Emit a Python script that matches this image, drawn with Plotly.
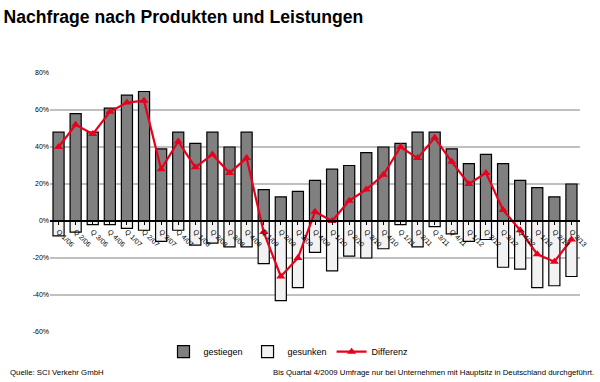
import plotly.graph_objects as go

quarters = ["Q 1/06", "Q 2/06", "Q 3/06", "Q 4/06",
            "Q 1/07", "Q 2/07", "Q 3/07", "Q 4/07",
            "Q 1/08", "Q 2/08", "Q 3/08", "Q 4/08",
            "Q 1/09", "Q 2/09", "Q 3/09", "Q 4/09",
            "Q 1/10", "Q 2/10", "Q 3/10", "Q 4/10",
            "Q 1/11", "Q 2/11", "Q 3/11", "Q 4/11",
            "Q 1/12", "Q 2/12", "Q 3/12", "Q 4/12",
            "Q 1/13", "Q 2/13", "Q 3/13"]
gestiegen = [48, 58, 48, 61, 68, 70, 39, 48, 42, 48, 40, 48, 17, 13, 16, 22,
             28, 30, 37, 40, 42, 48, 48, 39, 31, 36, 31, 22, 18, 13, 20]
gesunken = [-8, -6, -2, -2, -4, -5, -11, -5, -13, -12, -14, -14, -23, -43, -36, -17,
            -27, -19, -20, -15, -2, -14, -3, -7, -11, -10, -25, -26, -36, -35, -30]
differenz = [40, 52, 47, 59, 64, 65, 28, 43, 29, 36, 26, 34, -6, -30, -20, 5,
             0, 11, 17, 25, 40, 34, 45, 32, 20, 26, 6, -5, -18, -22, -10]
y_ticks = [-60, -40, -20, 0, 20, 40, 60, 80]
y_labels = ["-60%", "-40%", "-20%", "0%", "20%", "40%", "60%", "80%"]

FONT = "Liberation Sans, Arial, sans-serif"

fig = go.Figure()
fig.add_trace(go.Bar(x=quarters, y=gestiegen, name="gestiegen",
                     marker=dict(color="#808080", line=dict(color="black", width=1.2))))
fig.add_trace(go.Bar(x=quarters, y=gesunken, name="gesunken",
                     marker=dict(color="#f2f2f2", line=dict(color="black", width=1.2))))
fig.add_trace(go.Scatter(x=quarters, y=differenz, name="Differenz", mode="lines+markers",
                         line=dict(color="#e8001c", width=2.2),
                         marker=dict(symbol="triangle-up", size=8, color="#e8001c")))

ymin, ymax = -60, 80
fig.update_layout(
    width=600, height=382,
    margin=dict(l=50, r=20, t=73, b=50, autoexpand=False),
    paper_bgcolor="white", plot_bgcolor="white",
    barmode="relative", bargap=0.35,
    font=dict(family=FONT, size=7, color="black"),
    title=dict(text="<b>Nachfrage nach Produkten und Leistungen</b>",
               x=0.006, xanchor="left", y=0.955, yanchor="middle",
               font=dict(family=FONT, size=17.6, color="black")),
    legend=dict(orientation="h", x=0.45, xanchor="center", y=-0.02, yanchor="top",
                font=dict(family=FONT, size=9), itemwidth=30, traceorder="normal"),
    xaxis=dict(type="category", anchor="free", position=(0 - ymin) / (ymax - ymin),
               range=[-0.5, len(quarters) - 0.5], automargin=False,
               showline=True, linecolor="black", linewidth=2,
               ticks="outside", ticklen=3, tickcolor="black", tickangle=45,
               tickfont=dict(size=7), showgrid=False, zeroline=False),
    yaxis=dict(range=[ymin, ymax], tickvals=y_ticks, ticktext=y_labels, automargin=False,
               showgrid=True, gridcolor="#c0c0c0", gridwidth=1.5,
               zeroline=False, showline=False, ticks="", tickfont=dict(size=7)),
    annotations=[
        dict(text="Quelle: SCI Verkehr GmbH", xref="paper", yref="paper",
             x=-0.079, y=-0.158, xanchor="left", yanchor="middle", showarrow=False,
             font=dict(family=FONT, size=7.8)),
        dict(text="Bis Quartal 4/2009 Umfrage nur bei Unternehmen mit Hauptsitz in Deutschland durchgeführt.",
             xref="paper", yref="paper", x=1.03, y=-0.158, xanchor="right", yanchor="middle",
             showarrow=False, font=dict(family=FONT, size=7.8)),
    ],
)

fig.write_html("out.html", config={"displayModeBar": False},
               post_script="document.body.style.margin='0';document.body.style.overflow='hidden';")
